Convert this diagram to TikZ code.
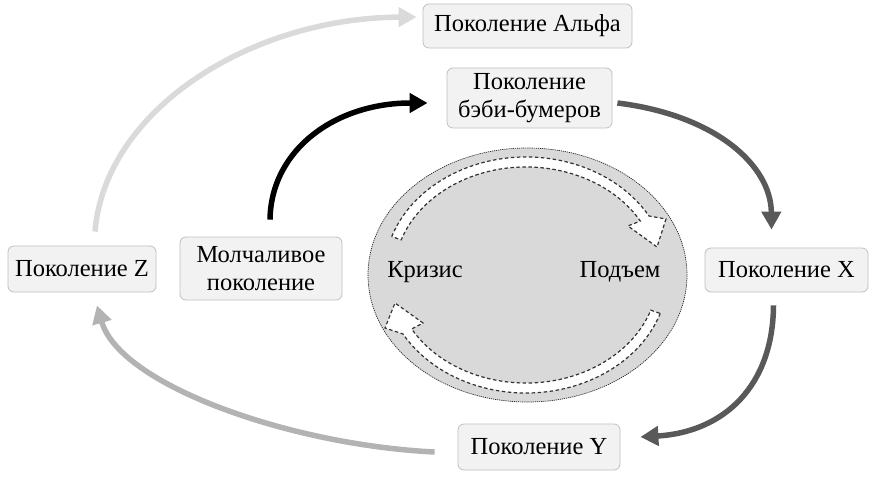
\documentclass[tikz,border=0pt]{standalone}
\usepackage{fontspec}
\setmainfont{Liberation Serif}
\usetikzlibrary{arrows.meta,calc,shapes.geometric}
\definecolor{boxfill}{HTML}{F2F2F2}
\definecolor{boxline}{HTML}{BFBFBF}
\definecolor{ellfill}{HTML}{D9D9D9}
\definecolor{darkarr}{HTML}{595959}
\definecolor{midarr}{HTML}{B3B3B3}
\definecolor{lightarr}{HTML}{DADADA}
\tikzset{
  genbox/.style={draw=boxline, fill=boxfill, rounded corners=6pt, line width=0.8pt,
    align=center, inner sep=0pt, font=\fontsize{24.5}{28}\selectfont},
  bigarrow/.style={line width=5.5pt, -{Triangle[length=18pt,width=19pt]}},
  innerarrow/.style={fill=white, draw=black!80, line width=1.2pt, dash pattern=on 3.5pt off 2.5pt},
  cyclab/.style={font=\fontsize{24.5}{28}\selectfont, inner sep=0pt}
}
\begin{document}
\begin{tikzpicture}[x=1pt,y=-1pt]
\useasboundingbox (0,0) rectangle (876,478);
% central ellipse
\node (ell) [draw=black!85, fill=ellfill, line width=0.7pt, dash pattern=on 1.2pt off 0.9pt, ellipse, minimum width=319pt, minimum height=254pt, inner sep=0pt] at (527.5,275) {};
\coordinate (C) at (526,275);
% top inner arrow
\path[innerarrow]
  ($(C)+(199:142 and 118)$) arc[start angle=199, end angle=330, x radius=142, y radius=118]
  -- (666,219) -- (657,247) -- (628,226)
  -- ($(C)+(330:132 and 108)$) arc[start angle=330, end angle=199, x radius=132, y radius=108]
  -- cycle;
% bottom inner arrow
\path[innerarrow]
  ($(C)+(19:142 and 118)$) arc[start angle=19, end angle=150, x radius=142, y radius=118]
  -- (385,328) -- (395,303) -- (423,323)
  -- ($(C)+(150:132 and 108)$) arc[start angle=150, end angle=19, x radius=132, y radius=108]
  -- cycle;
\node (crisis) [cyclab] at (425,272) {Кризис};
\node (rise) [cyclab] at (620,272) {Подъем};
% boxes
\node (alfa) [genbox, minimum width=209pt, minimum height=44pt] at (527.5,26) {Поколение Альфа};
\node (boom) [genbox, minimum width=165pt, minimum height=60pt] at (529.5,98) {Поколение\\бэби-бумеров};
\node (genz) [genbox, minimum width=148pt, minimum height=46pt] at (82,269) {Поколение Z};
\node (silent) [genbox, minimum width=162pt, minimum height=63pt] at (261,268.5) {Молчаливое\\поколение};
\node (genx) [genbox, minimum width=163pt, minimum height=44pt] at (786.5,270) {Поколение X};
\node (geny) [genbox, minimum width=162pt, minimum height=46pt] at (539,447) {Поколение Y};
% connectors
\draw[bigarrow, draw=black]
  ([shift={(9,-17)}]silent.north) .. controls (271,150) and (335,103) .. ([shift={(-19,5)}]boom.west);
\draw[bigarrow, draw=darkarr]
  ([shift={(5,5)}]boom.east) .. controls (715,115) and (771,165) .. ([shift={(-15,-18)}]genx.north);
\draw[bigarrow, draw=darkarr]
  ([shift={(-13,13)}]genx.south) .. controls (773,385) and (725,432) .. ([shift={(20,-10)}]geny.east);
\draw[bigarrow, draw=midarr]
  ([shift={(-23,5)}]geny.west) .. controls (290,445) and (120,385) .. ([shift={(15,13)}]genz.south);
\draw[bigarrow, draw=lightarr]
  ([shift={(13,-14)}]genz.north) .. controls (105,110) and (250,18) .. ([shift={(-6,-9)}]alfa.west);
\end{tikzpicture}
\end{document}
